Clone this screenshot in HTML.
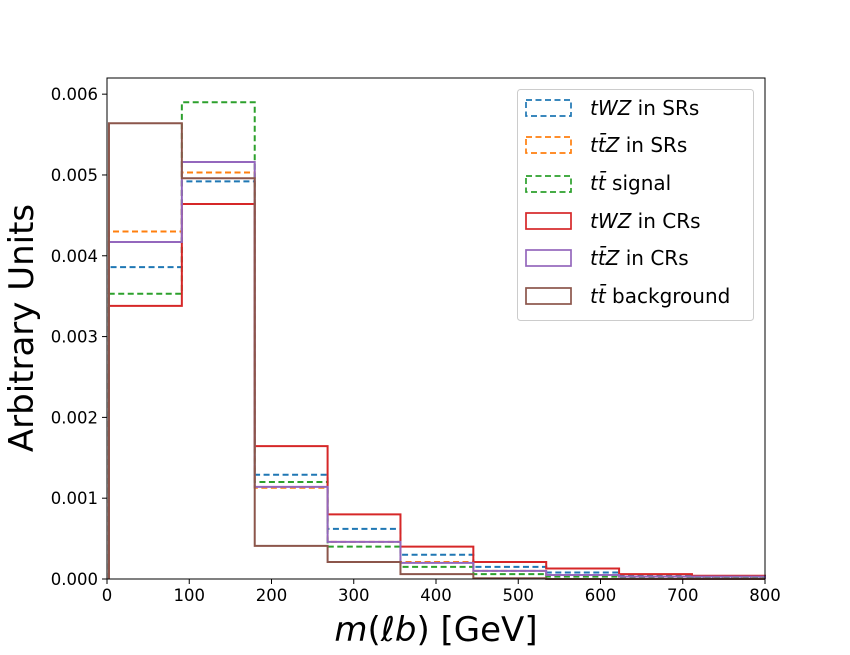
<!DOCTYPE html>
<html><head><meta charset="utf-8"><style>
html,body{margin:0;padding:0;background:#fff;}
svg text{font-family:"DejaVu Sans","Liberation Sans",sans-serif;fill:#000;}
</style></head><body>
<svg id="chart" width="850" height="650" viewBox="0 0 850 650" xmlns="http://www.w3.org/2000/svg">
<rect x="0" y="0" width="850" height="650" fill="#fff"/>
<g id="plot"></g>
<g id="axes"></g>
<g id="legend"></g>
</svg>
<script>
const binEdges = [2.4, 91, 179.6, 268.2, 356.8, 445.4, 534, 622.6, 711.2, 800];
const seriesNames = ["tWZ in SRs","ttZ in SRs","tt signal","tWZ in CRs","ttZ in CRs","tt background"];
const tWZ_SR  = [0.00386,0.00492,0.00129,0.00062,0.00030,0.00015,0.00008,0.00004,0.00002];
const ttZ_SR  = [0.00430,0.00503,0.00113,0.00046,0.00021,0.00010,0.00005,0.00003,0.00002];
const tt_sig  = [0.00353,0.00590,0.00120,0.00040,0.00015,0.00006,0.00003,0.00002,0.00001];
const tWZ_CR  = [0.00338,0.00464,0.001645,0.00080,0.00040,0.00021,0.00013,0.00006,0.00004];
const ttZ_CR  = [0.00417,0.00516,0.00114,0.00046,0.00020,0.00010,0.00005,0.00003,0.00003];
const tt_bkg  = [0.00564,0.00496,0.00041,0.00021,0.00006,0.00001,0.00000,0.00000,0.00000];
const xTicks = [0,100,200,300,400,500,600,700,800];
const yTicks = [0,0.001,0.002,0.003,0.004,0.005,0.006];
const yTickLabels = ["0.000","0.001","0.002","0.003","0.004","0.005","0.006"];

const NS="http://www.w3.org/2000/svg";
const X0=107,X1=765,Y0=579,Y1=78;
const xS=v=>X0+(v-0)/(800-0)*(X1-X0);
const yS=v=>Y0-v/0.0062*(Y0-Y1);
function mk(tag,at,parent){const e=document.createElementNS(NS,tag);for(const k in at)e.setAttribute(k,at[k]);parent.appendChild(e);return e;}

const series=[
 {d:tWZ_SR,c:"#1f77b4",dash:"6,3.5",n:"twz-sr-histogram"},
 {d:ttZ_SR,c:"#ff7f0e",dash:"6,3.5",n:"ttz-sr-histogram"},
 {d:tt_sig,c:"#2ca02c",dash:"6,3.5",n:"tt-signal-histogram"},
 {d:tWZ_CR,c:"#d62728",dash:"",n:"twz-cr-histogram"},
 {d:ttZ_CR,c:"#9467bd",dash:"",n:"ttz-cr-histogram"},
 {d:tt_bkg,c:"#8c564b",dash:"",n:"tt-background-histogram"}
];
const plot=document.getElementById('plot');
series.forEach(s=>{
  let p="M"+xS(binEdges[0])+","+yS(0);
  s.d.forEach((v,i)=>{p+=" L"+xS(binEdges[i])+","+yS(v)+" L"+xS(binEdges[i+1])+","+yS(v);});
  p+=" L"+xS(binEdges[binEdges.length-1])+","+yS(0);
  const el=mk('path',{d:p,fill:"none",stroke:s.c,"stroke-width":2,"stroke-dasharray":s.dash},plot);
  
  
});

const axes=document.getElementById('axes');
const frame=mk('rect',{x:X0,y:Y1,width:X1-X0,height:Y0-Y1,fill:"none",stroke:"#000","stroke-width":1},axes);


xTicks.forEach(t=>{
  const x=xS(t);
  mk('line',{x1:x,x2:x,y1:Y0,y2:Y0+5,stroke:"#000"},axes);
  const tx=mk('text',{x:x,y:Y0+22,"text-anchor":"middle","font-size":"16.5"},axes);
  tx.textContent=t;
  
  
});
yTicks.forEach((t,i)=>{
  const y=yS(t);
  mk('line',{x1:X0-5,x2:X0,y1:y,y2:y,stroke:"#000"},axes);
  const tx=mk('text',{x:X0-9,y:y+6,"text-anchor":"end","font-size":"16.5"},axes);
  tx.textContent=yTickLabels[i];
  
  
});
</script>
<svg style="position:absolute;left:0;top:0" width="850" height="650">
<text x="436" y="641" text-anchor="middle" font-size="34"><tspan font-style="italic">m</tspan>(<tspan font-style="italic">ℓb</tspan>) [GeV]</text>
<text transform="translate(33,328) rotate(-90)" text-anchor="middle" font-size="34">Arbitrary Units</text>
<g>
<rect x="517.5" y="89.5" width="236" height="231" rx="3" fill="#fff" fill-opacity="0.8" stroke="#ccc"/>
<rect x="526" y="100" width="45" height="16" fill="none" stroke="#1f77b4" stroke-width="1.7" stroke-dasharray="6,3.5"/>
<text x="590" y="115" font-size="20"><tspan font-style="italic">tWZ</tspan> in SRs</text>
<rect x="526" y="137" width="45" height="16" fill="none" stroke="#ff7f0e" stroke-width="1.7" stroke-dasharray="6,3.5"/>
<text x="590" y="152" font-size="20"><tspan font-style="italic">tt̄Z</tspan> in SRs</text>
<rect x="526" y="176" width="45" height="16" fill="none" stroke="#2ca02c" stroke-width="1.7" stroke-dasharray="6,3.5"/>
<text x="590" y="190" font-size="20"><tspan font-style="italic">tt̄</tspan> signal</text>
<rect x="526" y="213" width="45" height="16" fill="none" stroke="#d62728" stroke-width="1.7"/>
<text x="590" y="228" font-size="20"><tspan font-style="italic">tWZ</tspan> in CRs</text>
<rect x="526" y="250" width="45" height="16" fill="none" stroke="#9467bd" stroke-width="1.7"/>
<text x="590" y="265" font-size="20"><tspan font-style="italic">tt̄Z</tspan> in CRs</text>
<rect x="526" y="288" width="45" height="16" fill="none" stroke="#8c564b" stroke-width="1.7"/>
<text x="590" y="303" font-size="20"><tspan font-style="italic">tt̄</tspan> background</text>
</g>
</svg>
</body></html>
